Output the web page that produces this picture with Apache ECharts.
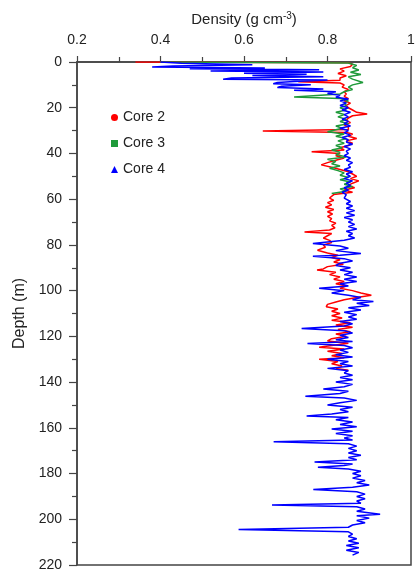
<!DOCTYPE html>
<html><head><meta charset="utf-8">
<script src="https://cdn.jsdelivr.net/npm/echarts@6/dist/echarts.min.js"></script>
<style>html,body{margin:0;padding:0;background:#fff}#c{width:417px;height:577px}</style>
</head><body><div id="c"></div>
<script>
// [depth (m), density (g cm-3)]
const core2 = [[0,0.34],[0.3,0.85],[1,0.86],[2,0.855],[3,0.83],[4,0.84],[5,0.825],[6,0.845],[7,0.83],[8,0.83],[8.6,0.73],[9.2,0.83],[10,0.84],[11,0.835],[12,0.85],[13,0.84],[14,0.845],[15,0.84],[16,0.85],[17,0.84],[18,0.855],[19,0.845],[20,0.85],[21,0.86],[22,0.87],[22.7,0.895],[23.5,0.86],[24.5,0.85],[25.5,0.845],[26.5,0.855],[27.5,0.84],[28.5,0.85],[29.5,0.85],[30.2,0.645],[30.8,0.845],[31.5,0.86],[32.5,0.85],[33.5,0.87],[34.5,0.845],[35.5,0.86],[36.5,0.85],[37.5,0.83],[38.5,0.84],[39.3,0.762],[40,0.83],[41,0.82],[42,0.84],[43,0.82],[44,0.8],[45,0.785],[46,0.81],[47,0.83],[48,0.85],[49,0.86],[50,0.87],[51,0.855],[52,0.875],[53,0.86],[54,0.85],[55,0.865],[56,0.84],[57,0.86],[58,0.815],[59.5,0.805],[60.5,0.815],[61.5,0.8],[62.5,0.81],[63.5,0.795],[64.5,0.815],[65.5,0.8],[66.5,0.812],[67.5,0.8],[68.5,0.81],[69.5,0.805],[70.5,0.82],[71.5,0.81],[72.5,0.818],[73.5,0.805],[74.3,0.745],[75,0.81],[76,0.8],[77,0.79],[78,0.805],[79,0.81],[80,0.79],[81,0.795],[82.3,0.776],[83.5,0.8],[84.5,0.825],[85.5,0.81],[86.5,0.83],[87.5,0.815],[88.5,0.838],[89.5,0.8],[90.5,0.79],[91,0.775],[92,0.82],[93,0.805],[94,0.83],[95,0.815],[96,0.84],[97,0.82],[98,0.845],[99,0.83],[100,0.86],[101,0.88],[102,0.905],[103,0.87],[104,0.84],[105,0.82],[106,0.8],[107,0.797],[108,0.825],[109,0.81],[110,0.83],[111,0.81],[112,0.835],[113,0.81],[114,0.855],[115,0.82],[116,0.86],[117,0.825],[118,0.855],[119,0.82],[120,0.845],[121,0.81],[122,0.8],[123,0.85],[124,0.81],[124.8,0.78],[125.5,0.84],[126.5,0.8],[127.5,0.835],[128.5,0.81],[129.3,0.84],[130,0.78],[131,0.825],[132,0.81],[133,0.835],[134,0.82],[134.8,0.85]];
const core3 = [[0,0.40],[0.4,0.85],[1.5,0.87],[2.5,0.86],[3.5,0.875],[4.5,0.855],[5.5,0.88],[6.5,0.85],[7.5,0.86],[9,0.885],[10,0.86],[11,0.85],[12,0.86],[13,0.84],[14,0.83],[15.3,0.72],[16,0.83],[17,0.85],[18,0.84],[19,0.845],[20,0.83],[21,0.845],[22,0.82],[23,0.84],[24,0.825],[25,0.845],[26,0.83],[27,0.85],[28,0.82],[29,0.835],[30.5,0.8],[31.5,0.84],[32.5,0.82],[33.5,0.845],[34.5,0.825],[35.5,0.84],[36.5,0.82],[37.5,0.835],[38.5,0.81],[39.5,0.83],[40.5,0.82],[41.5,0.845],[42.5,0.8],[43.5,0.82],[44.5,0.81],[45.5,0.83],[46.5,0.805],[47.5,0.825],[48.5,0.84],[49.5,0.83],[50.5,0.85],[51.5,0.83],[52.5,0.855],[53.5,0.84],[54.5,0.86],[55.5,0.83],[56.5,0.845],[57.5,0.81]];
const core4 = [[0,0.40],[0.6,0.45],[1.2,0.62],[1.8,0.43],[2.2,0.38],[2.6,0.65],[3.0,0.47],[3.4,0.78],[3.9,0.52],[4.4,0.79],[4.9,0.60],[5.4,0.75],[5.9,0.62],[6.4,0.79],[7.0,0.57],[7.5,0.55],[7.9,0.80],[8.5,0.72],[9.0,0.68],[9.5,0.67],[10.0,0.76],[10.6,0.69],[11.2,0.68],[11.8,0.79],[12.4,0.72],[13.0,0.82],[13.8,0.80],[14.6,0.83],[15.4,0.82],[16.2,0.85],[17,0.83],[18,0.845],[19,0.83],[20,0.85],[21,0.835],[22,0.855],[23,0.84],[24,0.85],[25,0.835],[26,0.85],[27,0.84],[28,0.855],[29,0.83],[30,0.85],[31,0.84],[32,0.855],[33,0.835],[34,0.85],[35,0.845],[36,0.86],[37,0.84],[38,0.855],[39,0.845],[40,0.85],[41,0.84],[42,0.855],[43,0.845],[44,0.86],[45,0.85],[46,0.855],[47,0.84],[48,0.86],[49,0.845],[50,0.855],[51,0.84],[52,0.86],[53,0.845],[54,0.855],[55,0.84],[56,0.85],[57,0.835],[58,0.845],[59.5,0.84],[61,0.855],[62,0.845],[63,0.86],[64,0.845],[65,0.865],[66,0.845],[67,0.865],[68,0.84],[69,0.86],[70,0.85],[71,0.865],[72,0.85],[73,0.87],[74,0.845],[75,0.86],[76,0.85],[77,0.865],[78,0.84],[79.4,0.765],[80.5,0.83],[81.5,0.85],[82.5,0.82],[83.8,0.88],[84.5,0.83],[85,0.765],[86,0.84],[87,0.86],[88,0.83],[89,0.82],[90,0.855],[91,0.83],[92,0.86],[93,0.84],[94,0.87],[95,0.84],[96,0.87],[97,0.83],[98,0.85],[99,0.78],[100,0.84],[101,0.81],[102,0.85],[103,0.88],[104,0.86],[104.8,0.91],[105.5,0.87],[106.5,0.90],[107.5,0.85],[108.5,0.88],[109.5,0.84],[110.5,0.87],[111.5,0.85],[112.5,0.87],[113.5,0.83],[114.5,0.86],[115.5,0.84],[116.6,0.738],[117.5,0.84],[118.5,0.86],[119.5,0.83],[120.5,0.85],[121.5,0.82],[122.3,0.86],[123.1,0.752],[124,0.84],[125,0.86],[126,0.83],[127,0.85],[128,0.82],[129,0.86],[130,0.80],[131,0.85],[132,0.83],[133,0.86],[134,0.80],[135,0.85],[136,0.84],[137,0.86],[138,0.83],[139,0.86],[140,0.82],[141,0.86],[142,0.84],[143,0.79],[144,0.85],[145,0.83],[146.2,0.747],[147,0.84],[148,0.87],[149,0.83],[150,0.80],[151,0.86],[152,0.83],[153,0.85],[154,0.81],[154.8,0.75],[155.5,0.85],[156.5,0.82],[157.5,0.86],[158.5,0.83],[159.5,0.87],[160.5,0.81],[161.5,0.86],[162.5,0.82],[163.5,0.86],[164.5,0.84],[165.3,0.86],[166.1,0.671],[167,0.85],[168,0.87],[169,0.85],[170,0.87],[171,0.85],[172,0.88],[173,0.85],[174,0.87],[174.9,0.769],[175.8,0.86],[176.5,0.84],[177.2,0.777],[178,0.85],[179,0.88],[180,0.86],[181,0.88],[182,0.86],[183,0.89],[184,0.87],[185,0.90],[186,0.86],[187,0.766],[188,0.87],[189,0.89],[190,0.87],[191,0.89],[192,0.87],[193,0.88],[193.8,0.667],[194.5,0.87],[195.5,0.89],[196.5,0.87],[197.8,0.926],[198.5,0.87],[199.5,0.90],[200.5,0.87],[201.5,0.89],[202.5,0.86],[203.5,0.85],[204.5,0.587],[205.5,0.85],[206.5,0.86],[207.5,0.85],[208.5,0.87],[209.5,0.85],[210.5,0.875],[211.5,0.845],[212.5,0.875],[213.5,0.845],[214.5,0.875],[215.7,0.86]];
const seriesNames = ['Core 2','Core 3','Core 4'];
const xTicks = [0.2,0.4,0.6,0.8,1];

const toXY = arr => arr.map(p => [p[1], p[0]]);
const chart = echarts.init(document.getElementById('c'), null, {renderer:'canvas'});
const axisCol = '#444';
const font = 'Liberation Sans, Arial, sans-serif';
chart.setOption({
  animation:false,
  textStyle:{fontFamily:font},
  grid:{left:77,right:6,top:62,bottom:12,show:true,borderColor:axisCol,borderWidth:1.5,containLabel:false,outerBoundsMode:'none'},
  legend:{
    orient:'vertical', left:106, top:105, itemWidth:7, itemHeight:7, itemGap:11,
    textStyle:{fontSize:14, color:'#222', fontFamily:font, lineHeight:15},
    data:[{name:seriesNames[0],icon:'circle'},{name:seriesNames[1],icon:'rect'},{name:seriesNames[2],icon:'triangle'}]
  },
  xAxis:{
    type:'value', position:'top', min:0.2, max:1, interval:0.2,
    name:'{a|Density (g cm}{s|-3}{a|)}', nameLocation:'middle', nameGap:34,
    nameTextStyle:{rich:{a:{fontSize:15,color:'#222',fontFamily:font},s:{fontSize:10,color:'#222',fontFamily:font,verticalAlign:'top',padding:[0,0,7,0]}}},
    axisLine:{lineStyle:{color:axisCol,width:1.5}},
    axisTick:{show:true,inside:false,length:6,lineStyle:{color:axisCol,width:1.2}},
    minorTick:{show:true,splitNumber:2,length:5,lineStyle:{color:axisCol,width:1.2}},
    axisLabel:{fontSize:14,color:'#222',margin:15,formatter:v=>{const t=xTicks.find(k=>Math.abs(k-v)<1e-6);return t===undefined?'':String(t);}},
    splitLine:{show:false}
  },
  yAxis:{
    type:'value', inverse:true, min:0, max:220, interval:20,
    name:'Depth (m)', nameLocation:'middle', nameGap:43, nameRotate:90,
    nameTextStyle:{fontSize:16,color:'#222',fontFamily:font},
    axisLine:{lineStyle:{color:axisCol,width:1.5}},
    axisTick:{show:true,inside:false,length:8,lineStyle:{color:axisCol,width:1.2}},
    minorTick:{show:true,splitNumber:2,length:5,lineStyle:{color:axisCol,width:1.2}},
    axisLabel:{fontSize:14,color:'#222',margin:15},
    splitLine:{show:false}
  },
  series:[
    {name:seriesNames[0],type:'line',data:toXY(core2),showSymbol:false,symbol:'circle',color:'#ff0000',lineStyle:{width:1.5,color:'#ff0000'},z:2},
    {name:seriesNames[1],type:'line',data:toXY(core3),showSymbol:false,symbol:'rect',color:'#1f9a3a',lineStyle:{width:1.5,color:'#1f9a3a'},z:3},
    {name:seriesNames[2],type:'line',data:toXY(core4),showSymbol:false,symbol:'triangle',color:'#0000ff',lineStyle:{width:1.5,color:'#0000ff'},z:4}
  ]
});
</script></body></html>
